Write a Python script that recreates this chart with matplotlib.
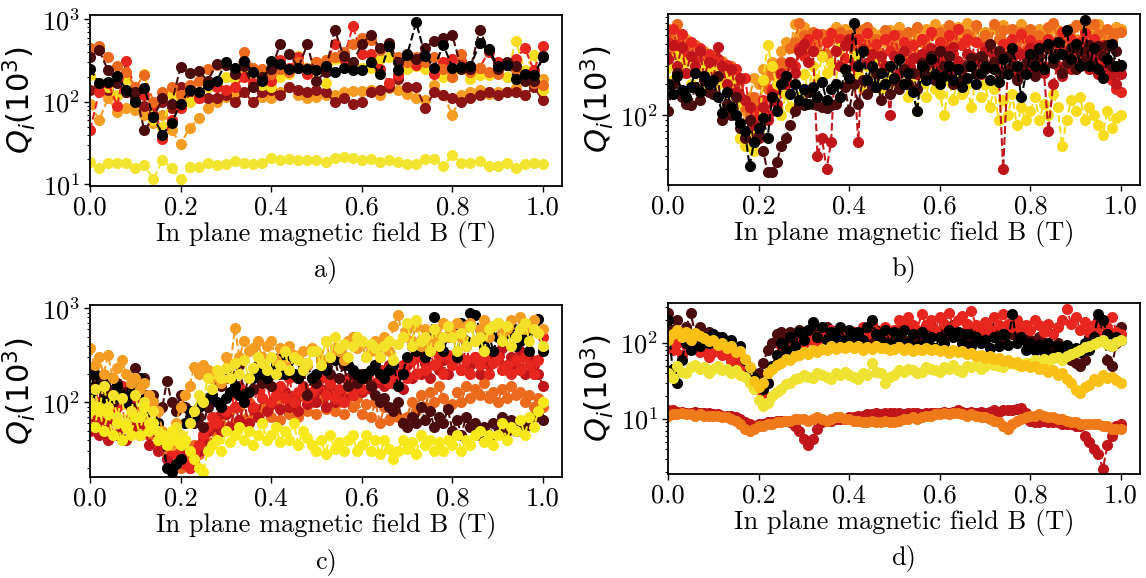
import numpy as np
import matplotlib
matplotlib.use("Agg")
import matplotlib.pyplot as plt

# ---------------------------------------------------------------- data
# field sweep grids (T)
B_a = [round(0.02 * i, 2) for i in range(51)]
B_b = [round(0.01 * i, 2) for i in range(101)]
B_c = B_b
B_d = B_b

# palette used for the resonators
BLACK = "#000000"
MAROON = "#4a0c0c"
BROWN = "#8c1414"
DARKRED = "#c0161b"
RED = "#e6261f"
ORANGERED = "#ec6a1e"
ORANGE = "#f59c23"
GOLD = "#fbc016"
YELLOW = "#f2e430"

# panel a) internal quality factors (x10^3)
a_yellow_low = [18.6, 15.5, 18.0, 18.2, 18.2, 15.7, 17.0, 11.5, 19.8, 15.5,
                11.7, 16.2, 16.2, 18.2, 17.1, 17.4, 19.0, 18.2, 17.8, 18.0,
                20.7, 19.4, 20.0, 19.4, 19.4, 19.4, 18.6, 21.0, 21.5, 20.7,
                19.4, 20.2, 18.6, 19.8, 18.6, 17.4, 17.4, 20.2, 20.2, 16.7,
                22.6, 18.2, 18.0, 19.0, 16.4, 16.7, 18.2, 15.7, 17.5, 18.0, 17.5]
a_orange = [95, 60, 110, 75, 85, 80, 70, 55, 70, 45,
            31, 48, 63, 85, 100, 115, 120, 130, 100, 115,
            110, 130, 150, 120, 110, 115, 120, 120, 130, 135,
            135, 140, 120, 145, 140, 125, 110, 105, 160, 120,
            70, 120, 130, 140, 125, 130, 130, 145, 120, 150, 190]
a_brown = [140, 150, 140, 120, 130, 110, 90, 70, 100, 85,
           150, 120, 110, 110, 110, 120, 100, 130, 100, 130,
           140, 120, 150, 140, 130, 140, 130, 100, 110, 95,
           100, 130, 140, 150, 190, 150, 150, 85, 130, 120,
           110, 100, 110, 120, 130, 120, 130, 130, 120, 150, 105]
a_yellow = [210, 170, 150, 120, 190, 140, 220, 60, 50, 125,
            110, 100, 130, 150, 170, 200, 190, 260, 170, 160,
            150, 200, 220, 360, 250, 180, 170, 330, 300, 290,
            260, 260, 330, 350, 300, 250, 270, 250, 250, 200,
            200, 250, 190, 210, 210, 250, 200, 550, 240, 370, 140]
a_red = [45, 130, 170, 90, 310, 140, 120, 95, 35, 60,
         85, 150, 110, 160, 150, 140, 150, 200, 170, 210,
         180, 320, 260, 350, 220, 300, 280, 500, 330, 820,
         380, 380, 250, 170, 210, 320, 280, 350, 220, 300,
         330, 310, 270, 260, 400, 300, 280, 330, 450, 240, 470]
a_orangered = [450, 480, 350, 270, 230, 150, 210, 100, 130, 150,
               120, 160, 180, 250, 280, 290, 240, 400, 260, 250,
               220, 250, 230, 300, 260, 300, 320, 350, 400, 500,
               600, 560, 430, 480, 350, 300, 350, 300, 350, 250,
               200, 380, 230, 260, 230, 220, 280, 240, 200, 170, 160]
a_maroon = [350, 420, 240, 170, 130, 130, 45, 65, 110, 95,
            265, 225, 235, 180, 290, 280, 220, 270, 150, 200,
            250, 500, 380, 260, 500, 180, 230, 750, 360, 300,
            500, 650, 450, 520, 300, 380, 330, 450, 550, 600,
            640, 250, 250, 750, 420, 250, 300, 270, 180, 180, 360]
a_black = [250, 170, 175, 205, 140, 100, 145, 65, 40, 55,
           95, 140, 130, 160, 180, 300, 260, 310, 230, 180,
           310, 290, 250, 260, 250, 240, 270, 230, 260, 245,
           240, 300, 220, 480, 240, 370, 920, 360, 260, 490,
           260, 265, 270, 510, 440, 270, 280, 190, 220, 210, 350]

# panel b)
b_orange = [700, 520, 650, 430, 560, 380, 480, 330, 420, 300,
            380, 260, 340, 220, 280, 170, 60, 110, 150, 230,
            200, 280, 240, 330, 300, 420, 520, 450, 780, 600,
            720, 480, 620, 420, 560, 380, 650, 720, 560, 700,
            520, 640, 480, 700, 560, 650, 430, 620, 520, 680,
            560, 720, 480, 640, 430, 600, 520, 700, 600, 780,
            560, 700, 480, 640, 720, 560, 800, 620, 720, 540,
            650, 480, 700, 560, 750, 520, 680, 600, 780, 560,
            650, 480, 700, 560, 640, 500, 680, 430, 620, 700,
            560, 760, 600, 700, 520, 780, 600, 680, 520, 720, 700]
b_orangered = [600, 420, 780, 560, 450, 350, 480, 300, 360, 260,
               380, 240, 330, 200, 300, 160, 220, 120, 100, 150,
               130, 200, 180, 260, 230, 330, 300, 450, 520, 800,
               600, 450, 650, 500, 620, 400, 560, 430, 650, 520,
               600, 420, 680, 500, 720, 480, 560, 400, 680, 520,
               460, 600, 380, 650, 500, 720, 560, 480, 620, 380,
               650, 520, 760, 560, 700, 480, 620, 540, 750, 500,
               600, 420, 780, 560, 680, 460, 700, 520, 650, 440,
               700, 520, 600, 460, 720, 800, 560, 650, 480, 700,
               750, 500, 680, 560, 780, 620, 480, 700, 560, 640, 650]
b_red2 = [520, 700, 480, 620, 380, 520, 340, 450, 300, 400,
          260, 350, 220, 310, 200, 280, 150, 230, 120, 90,
          110, 140, 100, 180, 160, 260, 220, 330, 300, 450,
          380, 560, 420, 620, 380, 520, 640, 420, 560, 360,
          480, 340, 560, 420, 640, 380, 500, 330, 560, 420,
          600, 380, 520, 300, 480, 360, 560, 420, 650, 400,
          520, 340, 600, 400, 700, 480, 560, 380, 520, 320,
          460, 300, 420, 280, 500, 380, 560, 420, 620, 400,
          540, 340, 480, 300, 560, 380, 500, 650, 420, 560,
          380, 520, 640, 420, 560, 320, 480, 280, 220, 180, 170]
b_yellow = [300, 220, 380, 260, 330, 200, 280, 180, 300, 240,
            280, 200, 250, 160, 220, 130, 60, 50, 65, 45,
            70, 220, 480, 300, 200, 100, 160, 120, 200, 150,
            250, 170, 300, 220, 380, 260, 320, 200, 450, 280,
            220, 380, 250, 180, 300, 220, 350, 180, 260, 200,
            320, 230, 280, 150, 240, 110, 200, 150, 280, 180,
            160, 100, 220, 140, 250, 160, 200, 120, 260, 150,
            200, 120, 180, 90, 140, 100, 160, 80, 120, 90,
            110, 150, 90, 130, 100, 160, 120, 50, 90, 140,
            110, 150, 90, 120, 100, 80, 65, 110, 75, 95, 100]
b_red = [350, 480, 300, 460, 260, 380, 300, 420, 240, 330,
         220, 460, 300, 200, 280, 170, 230, 140, 120, 80,
         60, 120, 90, 160, 130, 250, 200, 330, 260, 420,
         500, 330, 420, 40, 60, 30, 55, 420, 300, 480,
         560, 300, 55, 440, 320, 400, 260, 380, 300, 100,
         380, 260, 420, 300, 360, 250, 400, 300, 450, 330,
         300, 420, 260, 460, 340, 280, 400, 300, 360, 250,
         420, 300, 380, 260, 30, 280, 360, 240, 400, 300,
         450, 280, 380, 260, 70, 200, 300, 240, 360, 280,
         500, 320, 420, 280, 380, 250, 420, 300, 250, 200, 250]
b_maroon = [110, 200, 260, 150, 130, 125, 190, 140, 220, 170,
            160, 240, 90, 130, 100, 150, 75, 60, 90, 55,
            65, 45, 28, 28, 35, 50, 60, 80, 110, 130,
            125, 170, 130, 125, 120, 118, 125, 130, 150, 190,
            110, 200, 130, 220, 160, 190, 260, 140, 200, 160,
            220, 180, 280, 200, 260, 180, 320, 240, 380, 220,
            420, 300, 380, 200, 280, 220, 300, 360, 250, 380,
            280, 500, 330, 420, 260, 380, 300, 220, 250, 320,
            350, 240, 380, 280, 450, 320, 400, 260, 320, 450,
            280, 420, 340, 480, 300, 470, 380, 480, 300, 420, 300]
b_black = [200, 160, 240, 175, 150, 190, 260, 170, 240, 200,
           220, 150, 105, 170, 120, 100, 85, 70, 32, 55,
           75, 95, 60, 150, 110, 200, 240, 160, 200, 140,
           180, 130, 190, 150, 210, 140, 180, 200, 150, 280,
           230, 800, 300, 420, 220, 300, 190, 260, 200, 300,
           230, 350, 200, 260, 170, 110, 300, 220, 350, 250,
           200, 240, 300, 220, 280, 190, 230, 300, 200, 260,
           300, 220, 280, 210, 350, 250, 450, 300, 150, 250,
           400, 300, 450, 280, 500, 360, 520, 400, 680, 350,
           500, 300, 850, 300, 450, 280, 230, 350, 500, 300, 310]

# panel c)
c_orangered = [60, 90, 55, 75, 50, 85, 60, 95, 55, 70,
               80, 50, 70, 45, 60, 35, 45, 28, 35, 22,
               20, 28, 22, 35, 28, 45, 38, 55, 45, 70,
               55, 80, 60, 90, 65, 100, 70, 85, 60, 95,
               70, 100, 65, 110, 75, 95, 70, 120, 80, 100,
               75, 110, 85, 130, 80, 100, 75, 115, 90, 110,
               75, 95, 70, 100, 60, 90, 65, 85, 70, 60,
               70, 100, 80, 120, 90, 130, 100, 150, 110, 90,
               95, 130, 100, 150, 110, 140, 120, 160, 110, 130,
               100, 140, 110, 150, 120, 130, 100, 120, 90, 110, 90]
c_darkred = [50, 70, 45, 60, 40, 65, 45, 55, 40, 60,
             55, 45, 60, 35, 50, 30, 40, 25, 35, 40,
             28, 22, 20, 24, 30, 40, 50, 55, 70, 50,
             75, 55, 90, 65, 100, 60, 85, 70, 110, 80,
             95, 120, 85, 130, 90, 110, 80, 140, 95, 120,
             100, 140, 90, 150, 100, 130, 110, 180, 120, 150,
             130, 200, 140, 160, 220, 150, 250, 160, 200, 140,
             250, 180, 300, 200, 260, 180, 350, 220, 280, 200,
             250, 330, 220, 400, 250, 300, 200, 350, 250, 320,
             280, 380, 220, 300, 250, 350, 200, 300, 250, 200, 150]
c_red = [90, 140, 100, 160, 110, 130, 90, 150, 100, 120,
         110, 150, 120, 100, 80, 60, 45, 35, 30, 28,
         25, 22, 20, 28, 35, 45, 55, 70, 60, 90,
         80, 120, 90, 150, 110, 130, 90, 140, 110, 160,
         100, 120, 150, 110, 180, 100, 130, 150, 110, 130,
         150, 180, 120, 160, 110, 140, 100, 170, 120, 160,
         140, 200, 150, 250, 180, 220, 160, 200, 150, 250,
         180, 280, 200, 300, 220, 350, 250, 300, 200, 320,
         250, 300, 220, 280, 200, 300, 250, 300, 200, 260,
         300, 220, 250, 200, 280, 220, 300, 250, 200, 280, 500]
c_maroon = [200, 150, 180, 120, 140, 100, 160, 110, 130, 90,
            230, 150, 180, 100, 120, 80, 90, 170, 100, 80,
            120, 90, 70, 60, 70, 55, 90, 120, 200, 150,
            180, 200, 150, 250, 120, 180, 140, 250, 160, 200,
            150, 280, 200, 250, 280, 200, 180, 250, 120, 180,
            160, 280, 250, 200, 300, 180, 250, 150, 200, 160,
            200, 180, 150, 120, 100, 110, 90, 80, 100, 60,
            55, 70, 60, 90, 65, 80, 55, 70, 60, 85,
            50, 65, 45, 70, 55, 60, 45, 55, 40, 60,
            55, 70, 50, 65, 50, 60, 55, 65, 70, 75, 65]
c_black = [120, 200, 150, 100, 180, 110, 150, 120, 100, 130,
           150, 180, 120, 80, 100, 60, 40, 20, 18, 22,
           25, 60, 80, 70, 90, 100, 110, 120, 100, 90,
           110, 130, 150, 120, 100, 130, 180, 200, 220, 180,
           200, 250, 300, 200, 320, 200, 180, 220, 250, 180,
           200, 280, 220, 300, 280, 350, 300, 250, 220, 200,
           180, 200, 220, 250, 200, 180, 220, 250, 150, 200,
           300, 400, 350, 450, 300, 550, 800, 400, 350, 500,
           600, 300, 700, 450, 900, 850, 600, 400, 550, 350,
           500, 450, 550, 650, 400, 450, 550, 350, 700, 770, 350]
c_orange = [380, 250, 300, 200, 320, 180, 230, 280, 200, 160,
            180, 140, 160, 120, 100, 80, 50, 40, 35, 60,
            90, 120, 150, 240, 200, 250, 220, 180, 200, 160,
            300, 250, 620, 300, 450, 350, 380, 450, 300, 400,
            450, 280, 380, 250, 400, 320, 300, 350, 250, 380,
            350, 280, 450, 300, 380, 350, 280, 450, 500, 380,
            420, 300, 350, 450, 300, 500, 350, 650, 850, 500,
            600, 450, 650, 400, 600, 450, 600, 500, 700, 500,
            550, 700, 500, 650, 700, 450, 600, 750, 500, 650,
            700, 550, 600, 750, 500, 800, 600, 650, 750, 550, 600]
c_yellow_hi = [100, 140, 80, 150, 90, 120, 70, 110, 60, 80,
               120, 70, 100, 60, 80, 50, 45, 40, 50, 55,
               45, 40, 60, 80, 120, 100, 180, 140, 220, 180,
               230, 180, 260, 200, 280, 180, 230, 300, 260, 220,
               300, 200, 250, 350, 220, 300, 280, 220, 260, 350,
               350, 250, 450, 300, 500, 380, 420, 300, 400, 500,
               450, 300, 420, 380, 300, 400, 450, 280, 420, 500,
               700, 400, 750, 450, 500, 350, 600, 400, 500, 650,
               500, 350, 550, 400, 650, 450, 500, 350, 600, 650,
               700, 450, 650, 400, 500, 600, 700, 450, 600, 550, 400]
c_yellow_lo = [80, 55, 90, 50, 75, 45, 60, 40, 55, 45,
               70, 45, 90, 50, 60, 40, 45, 35, 50, 40,
               35, 40, 30, 25, 20, 18, 30, 35, 40, 30,
               50, 38, 45, 55, 40, 50, 35, 45, 60, 40,
               45, 55, 38, 50, 40, 60, 35, 50, 42, 35,
               30, 40, 28, 45, 32, 38, 30, 40, 45, 30,
               35, 45, 30, 40, 28, 40, 32, 25, 30, 40,
               32, 38, 28, 45, 35, 40, 30, 38, 30, 40,
               35, 45, 30, 40, 35, 45, 50, 38, 45, 35,
               45, 60, 40, 55, 50, 65, 45, 70, 55, 80, 100]

# panel d)
d_darkred = [13, 13, 12.5, 12.5, 12, 12, 12.5, 12, 12, 12,
             11.5, 11.5, 11, 11, 11, 10.5, 10, 9, 8.5, 8,
             8.5, 8.5, 9, 9, 9.5, 9.5, 9.5, 9, 8, 7,
             5.5, 4.6, 5.5, 7.5, 9, 9.5, 9.5, 10, 10, 10,
             10.5, 10.5, 11, 11, 11.5, 11.5, 12, 11.5, 12, 12,
             12, 12, 11.5, 12, 12, 12, 11.5, 12, 12, 12,
             12, 12.5, 12, 12.5, 13, 12.5, 12, 12.5, 12, 12.5,
             12, 12.5, 13, 12.5, 13, 13, 13, 13.5, 14, 12,
             9.5, 9, 9, 9.5, 9, 9, 9, 8.5, 8.5, 8.5,
             8, 8, 6, 5, 4, 3.5, 2.2, 4.5, 6, 8, 8.5]
d_orange = [11, 11.5, 11.5, 12, 11.5, 11.5, 11, 11.5, 11, 11,
            11, 11, 10.5, 10.5, 10, 9.5, 8.5, 7.5, 7, 7.5,
            8, 8, 8.5, 8.5, 9, 9, 9.5, 9.5, 10, 10,
            10, 9.5, 10, 10.5, 10, 9.5, 10, 10.5, 10.5, 10,
            10, 9.5, 9.5, 9, 9, 9.5, 9, 9, 9.5, 9,
            9, 9.5, 10, 10, 10.5, 10, 10.5, 11, 11, 11.5,
            11.5, 12, 11.5, 12, 12, 11.5, 11, 11.5, 11, 10.5,
            10.5, 10, 9.5, 9, 8, 7.5, 8.5, 9.5, 10, 10.5,
            11, 11, 11.5, 11, 10.5, 10.5, 10, 10, 9.5, 9,
            9, 8.5, 8.5, 8.5, 8.5, 8.5, 8, 8, 7.5, 7.5, 7.5]
d_maroon = [250, 150, 200, 120, 160, 250, 130, 160, 110, 140,
            100, 120, 80, 90, 60, 55, 45, 40, 40, 35,
            40, 55, 80, 100, 130, 140, 110, 140, 120, 150,
            120, 140, 110, 150, 120, 160, 130, 110, 140, 120,
            110, 140, 120, 100, 130, 110, 150, 120, 100, 130,
            120, 150, 110, 160, 130, 110, 140, 120, 160, 130,
            120, 160, 130, 170, 140, 120, 150, 110, 140, 130,
            140, 160, 120, 150, 110, 140, 130, 160, 120, 110,
            110, 90, 120, 100, 90, 80, 100, 70, 80, 60,
            55, 50, 60, 120, 150, 200, 180, 60, 50, 100, 160]
d_red = [110, 80, 100, 70, 95, 85, 100, 75, 85, 65,
         75, 90, 70, 80, 60, 70, 50, 40, 35, 30,
         25, 22, 30, 50, 70, 90, 80, 100, 90, 110,
         100, 130, 110, 90, 130, 110, 150, 100, 130, 110,
         120, 140, 110, 160, 130, 180, 140, 120, 160, 130,
         150, 200, 160, 220, 170, 150, 240, 170, 200, 150,
         220, 180, 250, 160, 200, 230, 180, 260, 170, 150,
         190, 150, 220, 170, 240, 180, 160, 200, 150, 170,
         150, 200, 170, 140, 180, 130, 160, 200, 280, 180,
         220, 150, 190, 140, 170, 130, 200, 160, 220, 140, 130]
d_black = [200, 45, 30, 60, 100, 80, 130, 90, 120, 100,
           130, 100, 120, 95, 110, 80, 90, 60, 45, 35,
           28, 25, 30, 50, 70, 100, 80, 120, 90, 140,
           110, 150, 190, 120, 160, 110, 140, 120, 160, 110,
           150, 120, 140, 110, 160, 200, 130, 110, 150, 100,
           140, 120, 150, 100, 130, 90, 140, 100, 120, 85,
           120, 100, 150, 120, 140, 100, 130, 90, 120, 100,
           110, 85, 120, 90, 130, 95, 240, 100, 120, 80,
           100, 80, 95, 75, 100, 70, 90, 75, 95, 80,
           85, 75, 100, 80, 120, 240, 200, 130, 90, 120, 110]
d_yellow = [40, 35, 50, 42, 40, 48, 52, 45, 48, 40,
            46, 50, 44, 46, 40, 44, 38, 36, 30, 25,
            18, 15, 16, 20, 23, 25, 29, 30, 34, 35,
            38, 36, 35, 40, 38, 36, 34, 40, 38, 42,
            38, 36, 34, 40, 38, 55, 42, 40, 30, 36,
            38, 44, 42, 46, 44, 40, 42, 48, 46, 44,
            42, 48, 46, 52, 44, 42, 50, 48, 52, 46,
            50, 54, 52, 50, 48, 54, 55, 52, 50, 54,
            55, 60, 56, 62, 58, 64, 66, 60, 68, 72,
            76, 82, 88, 92, 98, 104, 108, 96, 92, 104, 110]
d_gold = [110, 130, 150, 120, 140, 110, 135, 125, 115, 105,
          110, 95, 100, 85, 90, 75, 78, 62, 48, 32,
          26, 30, 40, 45, 52, 55, 62, 60, 68, 70,
          75, 72, 80, 76, 84, 82, 90, 84, 88, 86,
          92, 86, 90, 82, 88, 84, 92, 85, 86, 80,
          84, 88, 82, 86, 78, 84, 80, 86, 80, 84,
          78, 82, 74, 80, 76, 78, 72, 74, 68, 70,
          64, 68, 62, 64, 58, 60, 54, 56, 50, 52,
          48, 50, 45, 46, 42, 44, 38, 40, 34, 30,
          24, 22, 26, 28, 34, 32, 38, 35, 36, 33, 30]

XLABEL = "In plane magnetic field B (T)"
YLABEL = r"$Q_i(10^3)$"
CAPTIONS = ["a)", "b)", "c)", "d)"]

# ---------------------------------------------------------------- style
plt.rcParams.update({
    "font.family": "serif",
    "font.serif": ["cmr10"],
    "mathtext.fontset": "cm",
    "axes.formatter.use_mathtext": True,
    "axes.unicode_minus": False,
    "font.size": 19,
    "axes.linewidth": 1.3,
})

fig = plt.figure(figsize=(11.46, 5.78), dpi=100)
W, H = 1146.0, 578.0


def make_axes(left, top, right, bottom):
    return fig.add_axes([left / W, 1 - bottom / H, (right - left) / W, (bottom - top) / H])


panels = [
    (make_axes(90, 15, 562, 186), (9.5, 1130),
     [(a_yellow_low, YELLOW), (a_orange, ORANGE), (a_brown, BROWN), (a_yellow, "#f7dc1e"),
      (a_red, RED), (a_orangered, ORANGERED), (a_maroon, MAROON), (a_black, BLACK)], B_a),
    (make_axes(668, 14, 1140, 185), (21, 970),
     [(b_orange, ORANGE), (b_orangered, ORANGERED), (b_red2, RED), (b_yellow, "#f7dc1e"),
      (b_red, DARKRED), (b_maroon, MAROON), (b_black, BLACK)], B_b),
    (make_axes(90, 305, 562, 477), (16, 1085),
     [(c_orangered, ORANGERED), (c_darkred, DARKRED), (c_red, RED), (c_maroon, MAROON),
      (c_black, BLACK), (c_orange, ORANGE), (c_yellow_hi, "#f3e12a"), (c_yellow_lo, "#f7e81c")], B_c),
    (make_axes(668, 303, 1140, 474), (1.89, 336),
     [(d_darkred, DARKRED), (d_orange, "#ef7a1a"), (d_maroon, MAROON), (d_red, RED),
      (d_black, BLACK), (d_yellow, "#efe232"), (d_gold, GOLD)], B_d),
]

for (ax, ylim, series, xs), cap in zip(panels, CAPTIONS):
    for ys, col in series:
        ax.plot(xs, ys, linestyle="--", marker="o", color=col, markersize=8,
                linewidth=1.5, markeredgewidth=0)
    ax.set_yscale("log")
    ax.set_xlim(0, 1.042)
    ax.set_ylim(*ylim)
    ax.set_xticks([0.0, 0.2, 0.4, 0.6, 0.8, 1.0])
    ax.set_xticklabels(["0.0", "0.2", "0.4", "0.6", "0.8", "1.0"])
    ax.tick_params(axis="both", which="major", labelsize=19, length=4, width=1, pad=3)
    ax.tick_params(axis="y", which="minor", length=2.2, width=0.8)
    ax.set_xlabel(XLABEL, fontsize=19, labelpad=1)
    ax.set_ylabel(YLABEL, fontsize=22, math_fontfamily="dejavusans", labelpad=3)
    ax.text(0.5, -0.49, cap, transform=ax.transAxes, ha="center", va="center", fontsize=19)

fig.savefig("out.png", dpi=100)
